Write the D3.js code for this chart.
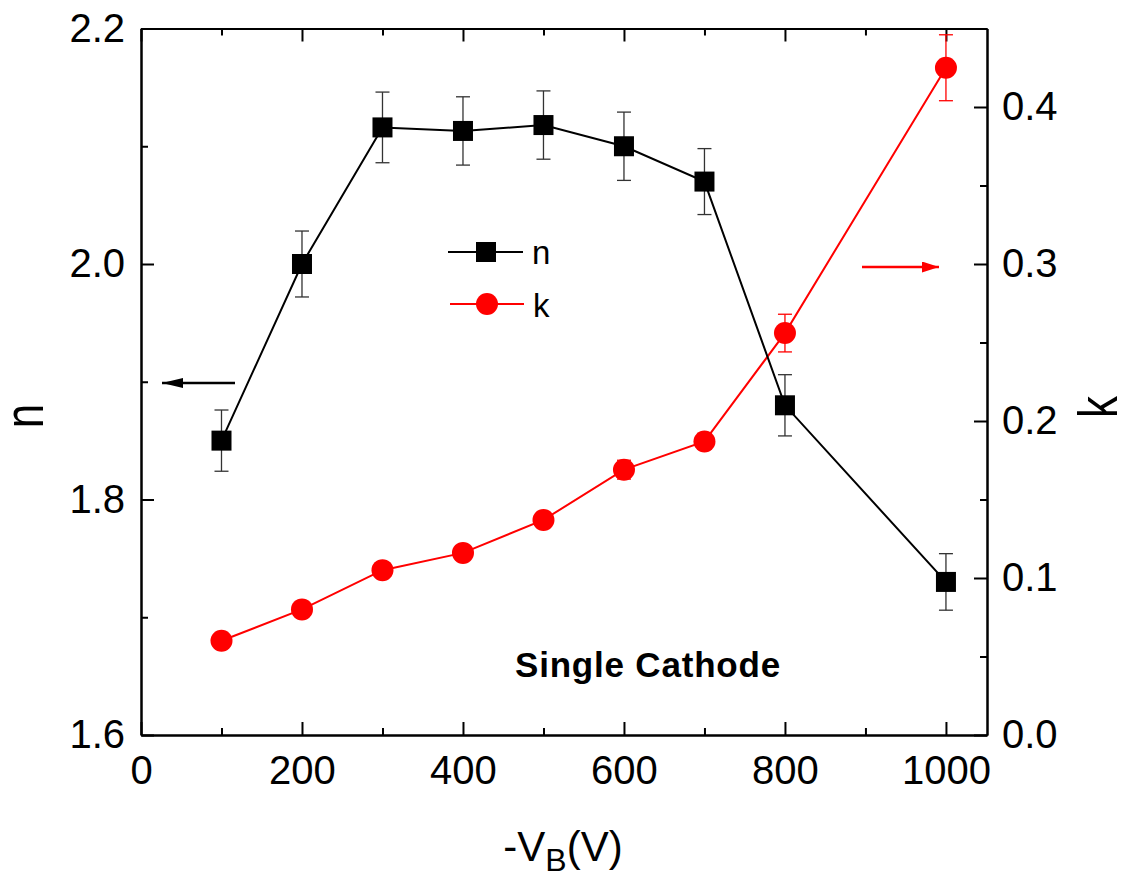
<!DOCTYPE html>
<html>
<head>
<meta charset="utf-8">
<script src="https://cdn.jsdelivr.net/npm/d3@7"></script>
<style>
  html, body { margin: 0; padding: 0; background: #fff; }
  svg { display: block; font-family: "Liberation Sans", Arial, Helvetica, sans-serif; }
</style>
</head>
<body>
<svg id="chart" width="1130" height="873"></svg>
<script>
// Bias voltage (-V_B, volts)
const voltages = [100, 200, 300, 400, 500, 600, 700, 800, 1000];
// Refractive index n and its error
const nValues = [1.85, 2.0, 2.116, 2.113, 2.118, 2.100, 2.070, 1.880, 1.730];
const nErrors = [0.026, 0.028, 0.030, 0.029, 0.029, 0.029, 0.028, 0.026, 0.024];
// Extinction coefficient k and its error
const kValues = [0.060, 0.080, 0.105, 0.116, 0.137, 0.169, 0.187, 0.256, 0.425];
const kErrors = [0.002, 0.002, 0.002, 0.003, 0.005, 0.006, 0.005, 0.012, 0.021];
// Tick values
const xTicks = [0, 200, 400, 600, 800, 1000];
const xMinor = [100, 300, 500, 700, 900];
const nTicks = [1.6, 1.8, 2.0, 2.2];
const nMinor = [1.7, 1.9, 2.1];
const kTicks = [0.0, 0.1, 0.2, 0.3, 0.4];
const kMinor = [0.05, 0.15, 0.25, 0.35];

const svg = d3.select("#chart");
const L = 141, R = 987, T = 28.5, B = 735;

const x = d3.scaleLinear().domain([0, 1051]).range([L, R]);
const yN = d3.scaleLinear().domain([1.6, 2.2]).range([B, T]);
const yK = d3.scaleLinear().domain([0, 0.45]).range([B, T]);

const axisColor = "#000";
const majorLen = 13, minorLen = 7;
const tickFont = 40;

// Frame-style axes with inward ticks
function drawAxis(axisGen, transform) {
  const g = svg.append("g").attr("transform", transform).call(axisGen);
  g.attr("font-family", null).attr("font-size", null);
  g.select(".domain").attr("stroke", axisColor).attr("stroke-width", 2);
  g.selectAll(".tick line").attr("stroke", axisColor).attr("stroke-width", 2);
  g.selectAll(".tick text").attr("font-size", tickFont).attr("fill", "#000");
  return g;
}

// Bottom axis
drawAxis(d3.axisBottom(x).tickValues(xTicks).tickSize(-majorLen).tickPadding(21).tickSizeOuter(0).tickFormat(d3.format("d")),
  `translate(0,${B})`);
drawAxis(d3.axisBottom(x).tickValues(xMinor).tickSize(-minorLen).tickSizeOuter(0).tickFormat(""), `translate(0,${B})`);
// Top axis
drawAxis(d3.axisTop(x).tickValues(xTicks).tickSize(-majorLen).tickSizeOuter(0).tickFormat(""), `translate(0,${T})`);
drawAxis(d3.axisTop(x).tickValues(xMinor).tickSize(-minorLen).tickSizeOuter(0).tickFormat(""), `translate(0,${T})`);
// Left axis (n)
drawAxis(d3.axisLeft(yN).tickValues(nTicks).tickSize(-majorLen).tickPadding(16).tickSizeOuter(0).tickFormat(d3.format(".1f")), `translate(${L},0)`);
drawAxis(d3.axisLeft(yN).tickValues(nMinor).tickSize(-minorLen).tickSizeOuter(0).tickFormat(""), `translate(${L},0)`);
// Right axis (k)
drawAxis(d3.axisRight(yK).tickValues(kTicks).tickSize(-majorLen).tickPadding(15).tickSizeOuter(0).tickFormat(d3.format(".1f")), `translate(${R},0)`);
drawAxis(d3.axisRight(yK).tickValues(kMinor).tickSize(-minorLen).tickSizeOuter(0).tickFormat(""), `translate(${R},0)`);

// Series data rows
const nData = voltages.map((v, i) => ({ v, val: nValues[i], err: nErrors[i] }));
const kData = voltages.map((v, i) => ({ v, val: kValues[i], err: kErrors[i] }));

const capHalf = 7;
function errorBars(data, yScale, color, width) {
  const g = svg.append("g").attr("stroke", color).attr("stroke-width", width).attr("fill", "none");
  data.forEach(d => {
    const xx = x(d.v), y1 = yScale(d.val + d.err), y2 = yScale(d.val - d.err);
    g.append("line").attr("x1", xx).attr("x2", xx).attr("y1", y1).attr("y2", y2);
    g.append("line").attr("x1", xx - capHalf).attr("x2", xx + capHalf).attr("y1", y1).attr("y2", y1);
    g.append("line").attr("x1", xx - capHalf).attr("x2", xx + capHalf).attr("y1", y2).attr("y2", y2);
  });
}

// k series (red circles)
errorBars(kData, yK, "#ff0000", 1.3);
svg.append("path").datum(kData)
  .attr("fill", "none").attr("stroke", "#ff0000").attr("stroke-width", 2)
  .attr("d", d3.line().x(d => x(d.v)).y(d => yK(d.val)));
svg.append("g").selectAll("circle").data(kData).join("circle")
  .attr("cx", d => x(d.v)).attr("cy", d => yK(d.val)).attr("r", 11)
  .attr("fill", "#ff0000");

// n series (black squares)
errorBars(nData, yN, "#333", 1.3);
svg.append("path").datum(nData)
  .attr("fill", "none").attr("stroke", "#000").attr("stroke-width", 2)
  .attr("d", d3.line().x(d => x(d.v)).y(d => yN(d.val)));
const sq = 20;
svg.append("g").selectAll("rect").data(nData).join("rect")
  .attr("x", d => x(d.v) - sq / 2).attr("y", d => yN(d.val) - sq / 2)
  .attr("width", sq).attr("height", sq).attr("fill", "#000");

// Legend
const leg = svg.append("g");
leg.append("line").attr("x1", 448).attr("x2", 523).attr("y1", 252).attr("y2", 252).attr("stroke", "#000").attr("stroke-width", 2);
leg.append("rect").attr("x", 476).attr("y", 242).attr("width", 20).attr("height", 20).attr("fill", "#000");
leg.append("text").attr("x", 532).attr("y", 264).attr("font-size", 33).text("n");
leg.append("line").attr("x1", 450).attr("x2", 524).attr("y1", 304).attr("y2", 304).attr("stroke", "#ff0000").attr("stroke-width", 2);
leg.append("circle").attr("cx", 487).attr("cy", 304).attr("r", 11).attr("fill", "#ff0000");
leg.append("text").attr("x", 533).attr("y", 317).attr("font-size", 33).text("k");

// Arrows pointing to each series' axis
const defs = svg.append("defs");
[["arrBlack", "#000", 21, 10], ["arrRed", "#ff0000", 17, 11]].forEach(([id, c, w, h]) => {
  defs.append("marker").attr("id", id).attr("viewBox", "0 0 10 10").attr("refX", 10).attr("refY", 5)
    .attr("markerWidth", w).attr("markerHeight", h).attr("markerUnits", "userSpaceOnUse")
    .attr("preserveAspectRatio", "none").attr("orient", "auto")
    .append("path").attr("d", "M0,0 L10,5 L0,10 Z").attr("fill", c);
});
svg.append("line").attr("x1", 235).attr("x2", 162).attr("y1", 383).attr("y2", 383)
  .attr("stroke", "#000").attr("stroke-width", 2.5).attr("marker-end", "url(#arrBlack)");
svg.append("line").attr("x1", 862).attr("x2", 939).attr("y1", 267).attr("y2", 267)
  .attr("stroke", "#ff0000").attr("stroke-width", 2.5).attr("marker-end", "url(#arrRed)");

// Annotation
svg.append("text").attr("x", 648).attr("y", 677).attr("text-anchor", "middle")
  .attr("font-size", 35).attr("font-weight", "bold").attr("letter-spacing", "0.8")
  .text("Single Cathode");

// Axis titles
svg.append("text").attr("transform", "translate(43,416) rotate(-90) scale(1,1.25)").attr("text-anchor", "middle")
  .attr("font-size", 44).text("n");
svg.append("text").attr("transform", "translate(1117,407) rotate(-90) scale(1,1.25)").attr("text-anchor", "middle")
  .attr("font-size", 44).text("k");
const xt = svg.append("text").attr("x", 563).attr("y", 861).attr("text-anchor", "middle").attr("font-size", 42);
xt.append("tspan").text("-V");
xt.append("tspan").attr("font-size", 32).attr("dy", 10).text("B");
xt.append("tspan").attr("dy", -10).text("(V)");
</script>
</body>
</html>
